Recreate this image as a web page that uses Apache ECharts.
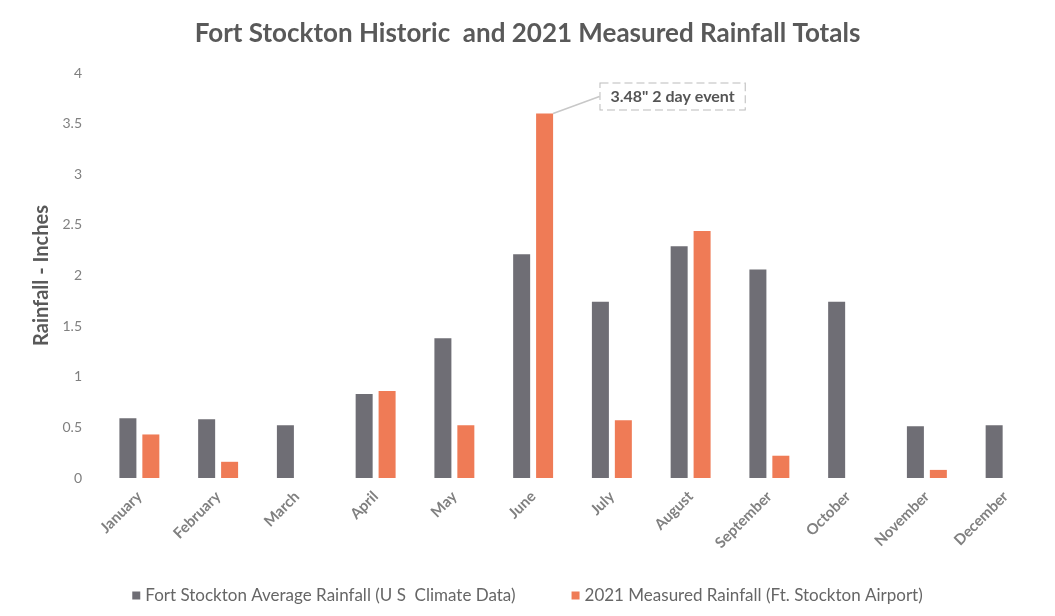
<!DOCTYPE html>
<html>
<head>
<meta charset="utf-8">
<script src="https://cdn.jsdelivr.net/npm/echarts@6/dist/echarts.min.js"></script>
<style>
  html, body { margin: 0; padding: 0; background: #fff; }
  #rain { width: 1055px; height: 616px; }
</style>
</head>
<body>
<div id="rain"></div>
<script>
// months on the x axis
var months = ['January', 'February', 'March', 'April', 'May', 'June',
              'July', 'August', 'September', 'October', 'November', 'December'];
// historic average (U.S. Climate Data)
var avgRain = [0.59, 0.58, 0.52, 0.83, 1.38, 2.21, 1.74, 2.29, 2.06, 1.74, 0.51, 0.52];
// 2021 measured at the airport (no bar = no value)
var rain2021 = [0.43, 0.16, null, 0.86, 0.52, 3.6, 0.57, 2.44, 0.22, null, 0.08, null];
var yTicks = [0, 0.5, 1, 1.5, 2, 2.5, 3, 3.5, 4];
var eventNote = '3.48" 2 day event';

var fontName = 'Lato, "Open Sans", sans-serif';

function drawRain() {
    var chart = echarts.init(document.getElementById('rain'));

    // only june gets the callout
    var data2021 = rain2021.map(function (v, i) {
        if (months[i] !== 'June') return v;
        return {
            value: v,
            label: {
                show: true,
                position: 'top',
                formatter: eventNote,
                color: '#555',
                fontWeight: 'bold',
                fontSize: 16,
                fontFamily: fontName,
                backgroundColor: '#fff',
                borderColor: '#bbb',
                borderWidth: 1,
                borderType: 'dashed',
                padding: [5, 10]
            },
            labelLine: { show: true, lineStyle: { color: '#c8c8c8', width: 1.5 } }
        };
    });

    var option = {
        backgroundColor: '#fff',
        textStyle: { fontFamily: fontName },
        title: {
            text: 'Fort Stockton Historic  and 2021 Measured Rainfall Totals',
            left: 'center',
            top: 16,
            textStyle: { color: '#595959', fontSize: 26, fontWeight: 'bold', fontFamily: fontName }
        },
        legend: {
            bottom: 7,
            left: 'center',
            itemWidth: 8,
            itemHeight: 8,
            itemGap: 56,
            icon: 'rect',
            textStyle: { color: '#666', fontSize: 17, fontFamily: fontName }
        },
        grid: { left: 100, right: 10, top: 73, bottom: 138 },
        xAxis: {
            type: 'category',
            data: months,
            axisTick: { show: false },
            axisLine: { show: false },
            axisLabel: {
                rotate: 45,
                interval: 0,
                margin: 16,
                color: '#808080',
                fontSize: 15,
                fontWeight: 'bold',
                fontFamily: fontName
            }
        },
        yAxis: {
            type: 'value',
            min: yTicks[0],
            max: yTicks[yTicks.length - 1],
            interval: 0.5,
            name: 'Rainfall - Inches',
            nameLocation: 'middle',
            nameRotate: 90,
            nameGap: 46,
            nameTextStyle: { color: '#595959', fontSize: 20, fontWeight: 'bold', fontFamily: fontName },
            axisLine: { show: false },
            axisTick: { show: false },
            splitLine: { show: false },
            axisLabel: { color: '#808080', fontSize: 14, margin: 18, fontFamily: fontName }
        },
        series: [
            {
                name: 'Fort Stockton Average Rainfall (U S  Climate Data)',
                type: 'bar',
                data: avgRain,
                barWidth: 17,
                barGap: '35%',
                itemStyle: { color: '#6f6e75' }
            },
            {
                name: '2021 Measured Rainfall (Ft. Stockton Airport)',
                type: 'bar',
                data: data2021,
                barWidth: 17,
                itemStyle: { color: '#ef7b56' },
                labelLayout: { dx: 128, dy: 1 }
            }
        ]
    };

    chart.setOption(option);
    window.onresize = function () {
        chart.resize();
    };
}

drawRain();
</script>
</body>
</html>
